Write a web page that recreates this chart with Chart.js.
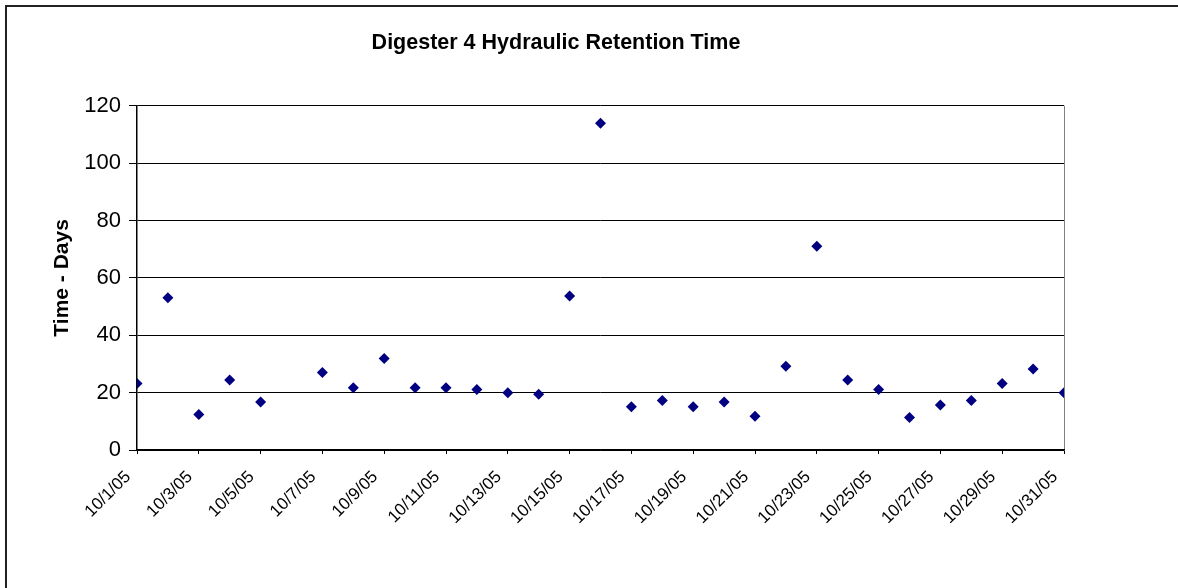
<!DOCTYPE html>
<html lang="en">
<head>
  <meta charset="UTF-8">
  <title>Digester 4 Hydraulic Retention Time</title>
  <style>
    html, body { margin: 0; padding: 0; background: #fff; overflow: hidden; }
    #frame {
      position: absolute; left: 5px; top: 5px; width: 1300px; height: 700px;
      border-top: 2px solid #222; border-left: 2px solid #222;
    }
    #wrap { position: absolute; left: 0; top: 0; width: 1178px; height: 588px; }
  </style>
</head>
<body>
  <div id="frame"></div>
  <div id="wrap"><canvas id="chart" width="1178" height="588"></canvas></div>
  <script src="https://cdn.jsdelivr.net/npm/chart.js"></script>
  <script>
    // day of October 2005 (no reading on the 6th)
    const days = [1, 2, 3, 4, 5, 7, 8, 9, 10, 11, 12, 13, 14, 15, 16, 17, 18, 19, 20,
                  21, 22, 23, 24, 25, 26, 27, 28, 29, 30, 31];
    // hydraulic retention time, days
    const hrt = [23.2, 53.1, 12.4, 24.4, 16.7, 27.0, 21.7, 31.9, 21.7, 21.7, 21.1, 20.0, 19.4, 53.7, 113.9,
                 15.1, 17.3, 15.1, 16.7, 11.8, 29.2, 71.0, 24.4, 21.1, 11.3, 15.7, 17.3, 23.2, 28.2, 20.0];
    const yTicks = [0, 20, 40, 60, 80, 100, 120];

    const font = "'Liberation Sans', Arial, sans-serif";

    new Chart(document.getElementById("chart"), {
      type: "scatter",
      data: {
        datasets: [{
          data: days.map((d, i) => ({ x: d, y: hrt[i] })),
          pointStyle: "rectRot",
          pointRadius: 5.5,
          pointHoverRadius: 5.5,
          backgroundColor: "#000080",
          borderColor: "#000080",
          borderWidth: 0,
        }],
      },
      options: {
        responsive: false,
        animation: false,
        layout: { padding: { left: 48, right: 114, top: 0, bottom: 0 } },
        plugins: {
          legend: { display: false },
          tooltip: { enabled: false },
          title: {
            display: true,
            text: "Digester 4 Hydraulic Retention Time",
            color: "#000",
            font: { family: font, size: 21.5, weight: "bold" },
            padding: { top: 30, bottom: 50 },
          },
        },
        scales: {
          x: {
            type: "linear",
            min: 1,
            max: 31,
            afterBuildTicks: (axis) => {
              axis.ticks = [];
              for (let d = 1; d <= 31; d += 2) axis.ticks.push({ value: d });
            },
            afterFit: (axis) => { axis.height = 138; },
            grid: {
              color: (c) => (c.tick && c.tick.value === 31 ? "#808080" : "rgba(0,0,0,0)"),
              tickColor: "#000",
              tickLength: 4,
              lineWidth: 1,
            },
            border: { display: true, color: "#000", width: 1.5 },
            ticks: {
              color: "#000",
              font: { family: font, size: 17 },
              minRotation: 45,
              maxRotation: 45,
              autoSkip: false,
              padding: 13,
              labelOffset: -9,
              callback: (v) => "10/" + v + "/05",
            },
          },
          y: {
            min: 0,
            max: 120,
            afterBuildTicks: (axis) => { axis.ticks = yTicks.map((v) => ({ value: v })); },
            afterFit: (axis) => { axis.width = 137 - 48; },
            grid: { color: "#000", tickColor: "#000", tickLength: 8, lineWidth: 1 },
            border: { display: true, color: "#000", width: 1.5 },
            ticks: {
              color: "#000",
              font: { family: font, size: 22 },
              padding: 8,
            },
            title: {
              display: true,
              text: "Time - Days",
              color: "#000",
              font: { family: font, size: 21, weight: "bold" },
              padding: { top: 2, bottom: 0 },
            },
          },
        },
      },
    });
  </script>
</body>
</html>
